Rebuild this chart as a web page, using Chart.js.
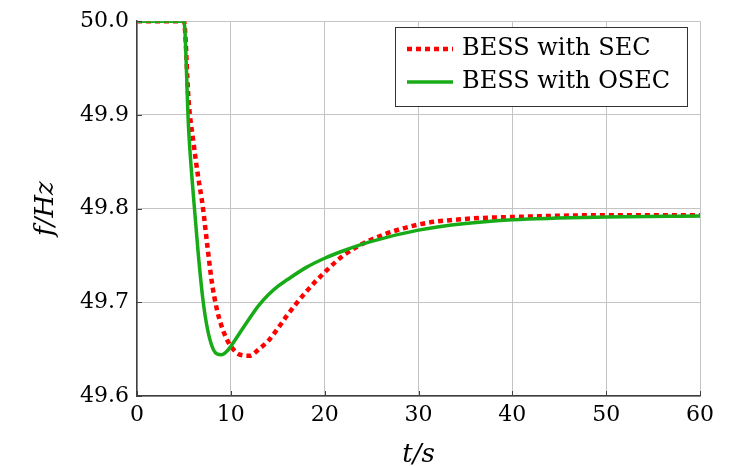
<!DOCTYPE html>
<html>
<head>
<meta charset="utf-8">
<script src="https://cdn.jsdelivr.net/npm/chart.js@4"></script>
<style>
  html, body { margin: 0; padding: 0; background: #fff; }
  #wrap { width: 734px; height: 466px; }
</style>
</head>
<body>
<div id="wrap"><canvas id="freqChart" width="734" height="466"></canvas></div>
<script>
// time axis in seconds (shared by both series)
const timeSec = [0, 5, 5.5, 6, 6.5, 7, 7.5, 8, 8.5, 9, 9.5, 10, 11, 12, 13, 14, 15, 16, 18, 20, 22, 25, 30, 35, 40, 50, 60];

// frequency response, BESS with SEC (red dotted)
const freqSEC = [50.0, 50.0, 49.915, 49.872, 49.835, 49.803, 49.76, 49.72, 49.693, 49.675, 49.662, 49.653, 49.644, 49.643, 49.650, 49.659, 49.672, 49.686, 49.711, 49.732, 49.750, 49.767, 49.783, 49.789, 49.791, 49.793, 49.793];

// frequency response, BESS with OSEC (green solid)
const freqOSEC = [50.0, 50.0, 49.885, 49.815, 49.755, 49.705, 49.672, 49.653, 49.645, 49.644, 49.647, 49.653, 49.668, 49.683, 49.697, 49.708, 49.717, 49.724, 49.737, 49.747, 49.755, 49.765, 49.777, 49.784, 49.788, 49.791, 49.792];

const xTicks = [0, 10, 20, 30, 40, 50, 60];
const yTicks = [49.6, 49.7, 49.8, 49.9, 50.0];

const seriesNames = ['BESS with SEC', 'BESS with OSEC'];
const RED = '#ff0000';
const GREEN = '#17ab17';
const FONT = '"DejaVu Serif", serif';

function toPoints(ys) {
  return timeSec.map((t, i) => ({ x: t, y: ys[i] }));
}

// draw the small inward tick marks and the boxed legend
const extras = {
  id: 'extras',
  afterDatasetsDraw(chart) {
    const { ctx, chartArea: a, scales: { x, y } } = chart;
    ctx.save();
    ctx.strokeStyle = '#404040';
    ctx.lineWidth = 1;
    xTicks.forEach(v => {
      const px = Math.round(x.getPixelForValue(v)) + 0.5;
      ctx.beginPath(); ctx.moveTo(px, a.bottom); ctx.lineTo(px, a.bottom - 5); ctx.stroke();
    });
    yTicks.forEach(v => {
      const py = Math.round(y.getPixelForValue(v)) + 0.5;
      ctx.beginPath(); ctx.moveTo(a.left, py); ctx.lineTo(a.left + 5, py); ctx.stroke();
    });

    // legend box
    const bx = 395, by = 27, bw = 292, bh = 79;
    ctx.fillStyle = '#fff';
    ctx.fillRect(bx, by, bw, bh);
    ctx.strokeStyle = '#333';
    ctx.strokeRect(bx + 0.5, by + 0.5, bw, bh);

    const rows = [
      { name: seriesNames[0], color: RED, dash: [5, 4], width: 4.5, yy: 49 },
      { name: seriesNames[1], color: GREEN, dash: [], width: 3.5, yy: 82 }
    ];
    rows.forEach(r => {
      ctx.beginPath();
      ctx.setLineDash(r.dash);
      ctx.strokeStyle = r.color;
      ctx.lineWidth = r.width;
      ctx.moveTo(407, r.yy); ctx.lineTo(453, r.yy);
      ctx.stroke();
      ctx.setLineDash([]);
      ctx.fillStyle = '#000';
      ctx.font = '24px ' + FONT;
      ctx.textBaseline = 'middle';
      ctx.fillText(r.name, 462, r.yy);
    });
    ctx.restore();
  }
};

new Chart(document.getElementById('freqChart'), {
  type: 'line',
  data: {
    datasets: [
      {
        label: seriesNames[0],
        data: toPoints(freqSEC),
        borderColor: RED,
        borderWidth: 4.5,
        borderDash: [5, 4],
        pointRadius: 0,
        cubicInterpolationMode: 'monotone',
        order: 1
      },
      {
        label: seriesNames[1],
        data: toPoints(freqOSEC),
        borderColor: GREEN,
        borderWidth: 3.5,
        pointRadius: 0,
        cubicInterpolationMode: 'monotone',
        order: 0
      }
    ]
  },
  options: {
    responsive: false,
    animation: false,
    layout: { padding: { top: 18, right: 34, left: 0, bottom: 0 } },
    plugins: { legend: { display: false }, tooltip: { enabled: false } },
    scales: {
      x: {
        type: 'linear',
        min: 0, max: 60,
        afterBuildTicks: s => { s.ticks = xTicks.map(v => ({ value: v })); },
        afterFit: s => { s.height = 70; },
        grid: { color: '#c4c4c4', drawTicks: false },
        border: { color: '#404040', width: 1.5 },
        ticks: { color: '#000', font: { family: FONT, size: 22 }, padding: 6, maxRotation: 0 },
        title: { display: true, text: 't/s', color: '#000', font: { family: FONT, size: 26, style: 'italic' }, padding: { top: 4, bottom: -5 } }
      },
      y: {
        min: 49.6, max: 50.0,
        afterBuildTicks: s => { s.ticks = yTicks.map(v => ({ value: v })); },
        afterFit: s => { s.width = 137; },
        grid: { color: '#c4c4c4', drawTicks: false },
        border: { color: '#404040', width: 1.5 },
        ticks: { color: '#000', font: { family: FONT, size: 22 }, padding: 8, callback: v => v.toFixed(1) },
        title: { display: true, text: 'f/Hz', color: '#000', font: { family: FONT, size: 26, style: 'italic' }, padding: { top: 31, bottom: 10 } }
      }
    }
  },
  plugins: [extras]
});
</script>
</body>
</html>
